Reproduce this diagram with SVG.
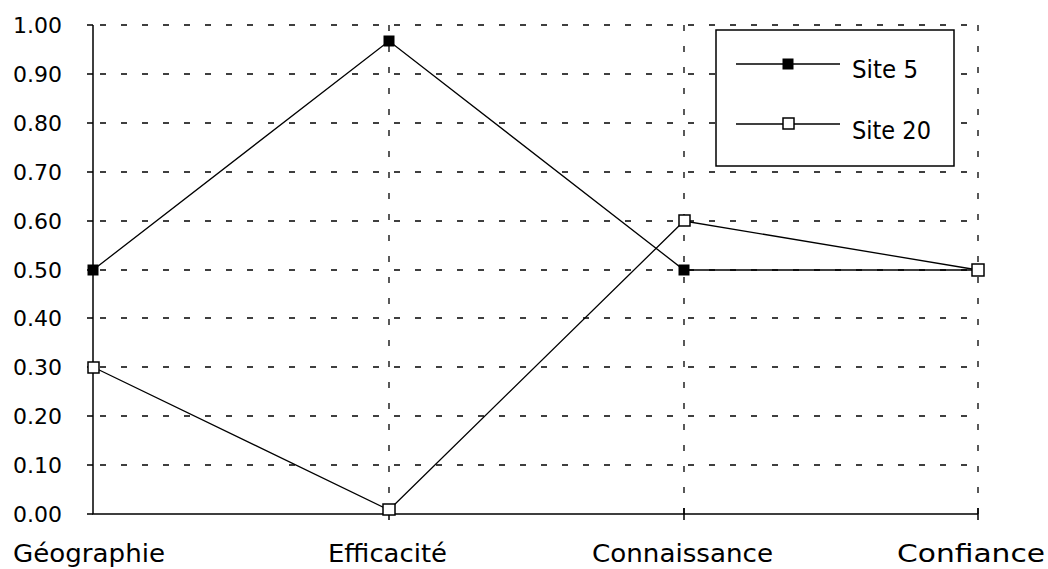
<svg xmlns="http://www.w3.org/2000/svg" width="1048" height="569" viewBox="0 0 1048 569">
<style>
.grid{stroke:#000;stroke-width:1.3;stroke-dasharray:6 15;fill:none}
.axis{stroke:#000;stroke-width:1.5;fill:none}
.ser{stroke:#000;stroke-width:1.3;fill:none}
.lbl{font-family:"DejaVu Sans","Liberation Sans",sans-serif;font-size:22px;fill:#000}
.big{font-size:25px}
.f{fill:#000;stroke:#000;stroke-width:1}
.o{fill:#fff;stroke:#000;stroke-width:1.5}
</style>
<rect width="1048" height="569" fill="#fff"/>
<g id="grid">
<path class="grid" d="M100 25H978M100 74H978M100 123H978M100 172H978M100 221H978M100 270H978M100 318H978M100 367H978M100 416H978M100 465H978"/>
<path class="grid" d="M389 25V514M684 25V514M978 25V514"/>
</g>
<g id="axes">
<path class="axis" d="M93 25V514H978"/>
<path class="axis" d="M87 25H93M87 74H93M87 123H93M87 172H93M87 221H93M87 270H93M87 318H93M87 367H93M87 416H93M87 465H93M87 514H93"/>
<path class="axis" d="M389 514V520M684 508V520M978 508V520"/>
</g>
<g id="ylabels" class="lbl" text-anchor="end">
<text x="62" y="33">1.00</text>
<text x="62" y="82">0.90</text>
<text x="62" y="131">0.80</text>
<text x="62" y="180">0.70</text>
<text x="62" y="229">0.60</text>
<text x="62" y="278">0.50</text>
<text x="62" y="326">0.40</text>
<text x="62" y="375">0.30</text>
<text x="62" y="424">0.20</text>
<text x="62" y="473">0.10</text>
<text x="62" y="522">0.00</text>
</g>
<g id="xlabels" class="lbl big">
<text x="13" y="562" textLength="152" lengthAdjust="spacingAndGlyphs">Géographie</text>
<text x="328" y="562" textLength="119" lengthAdjust="spacingAndGlyphs">Efficacité</text>
<text x="592" y="562" textLength="181" lengthAdjust="spacingAndGlyphs">Connaissance</text>
<text x="897" y="562" textLength="148" lengthAdjust="spacingAndGlyphs">Confiance</text>
</g>
<g id="connectors">
<polyline id="site5-line" class="ser" points="93,270 389,41 684,270 978,270"/>
<polyline id="site20-line" class="ser" points="93,367 389,510 684,221 978,270"/>
</g>
<g id="site5-markers">
<rect class="f" x="88" y="265" width="10" height="10"/>
<rect class="f" x="384" y="36" width="10" height="10"/>
<rect class="f" x="679" y="265" width="10" height="10"/>
</g>
<g id="site20-markers">
<rect class="o" x="88" y="362" width="11" height="11"/>
<rect class="o" x="383" y="504" width="12" height="11"/>
<rect class="o" x="679" y="215" width="11" height="11"/>
<rect class="o" x="972" y="264" width="12" height="12"/>
</g>
<g id="legend">
<rect x="716" y="30" width="238" height="136" fill="#fff" stroke="#000" stroke-width="1.5"/>
<line class="ser" x1="736" y1="64" x2="840" y2="64"/>
<rect class="f" x="783" y="59" width="10" height="10"/>
<text class="lbl big" x="852" y="78" textLength="66" lengthAdjust="spacingAndGlyphs">Site 5</text>
<line class="ser" x1="736" y1="124" x2="840" y2="124"/>
<rect class="o" x="783" y="118" width="11" height="11"/>
<text class="lbl big" x="852" y="139" textLength="79" lengthAdjust="spacingAndGlyphs">Site 20</text>
</g>
</svg>
